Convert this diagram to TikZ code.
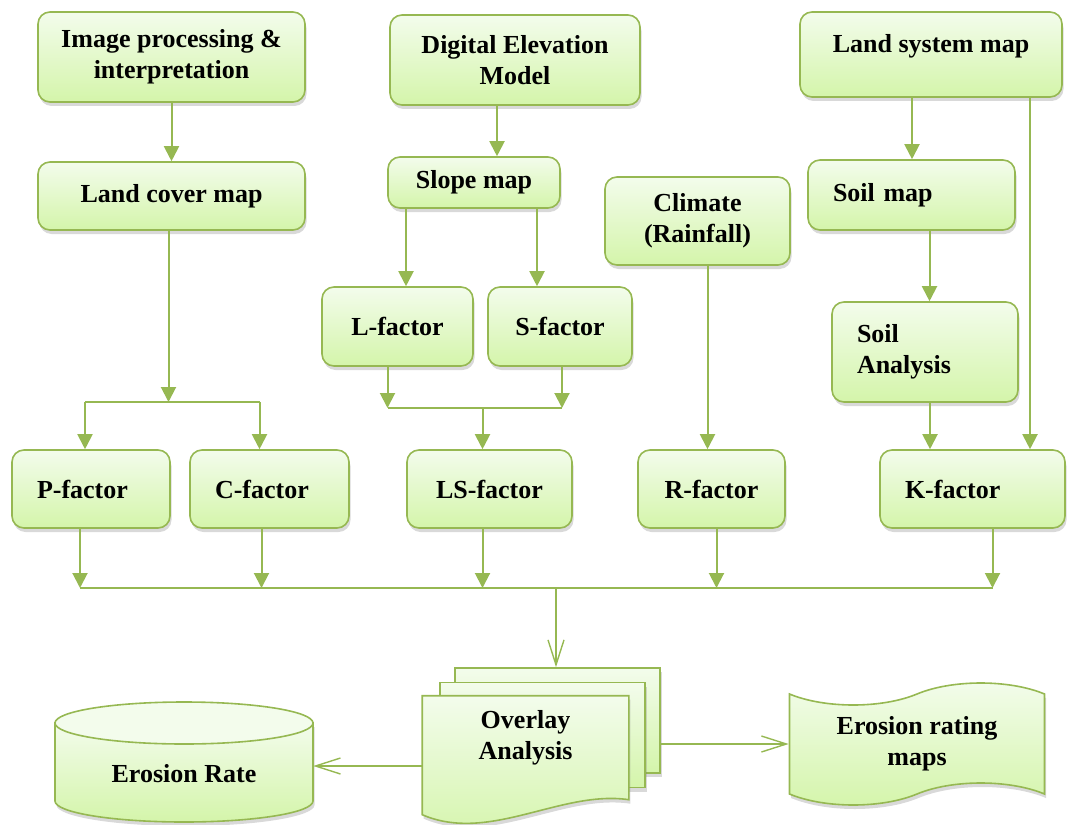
\documentclass[tikz,border=0pt]{standalone}
\usepackage{fontspec}
\setmainfont{Liberation Serif}
\usetikzlibrary{arrows.meta,calc,positioning,shadows,shapes.symbols}

\definecolor{leafline}{RGB}{150,184,82}
\definecolor{leaftop}{RGB}{243,252,236}
\definecolor{leafbot}{RGB}{212,245,170}

\begin{document}
\begin{tikzpicture}[x=1pt,y=-1pt,
    box/.style={draw=leafline, line width=1.6pt, rounded corners=12pt,
      top color=leaftop, bottom color=leafbot,
      drop shadow={shadow xshift=1.5pt,shadow yshift=-4pt,opacity=0.3},
      font=\bfseries\fontsize{26}{31}\selectfont, align=center, inner sep=4pt},
    lbox/.style={box, align=left, inner xsep=25pt, text width=#1},
    page/.style={draw=leafline, line width=1.6pt, top color=leaftop, bottom color=leafbot},
    txt/.style={font=\bfseries\fontsize{26}{31}\selectfont, align=center},
    flow/.style={draw=leafline, line width=2pt, -{Triangle[width=15pt,length=15pt]}},
    bus/.style={draw=leafline, line width=1.6pt},
    open/.style={draw=leafline, line width=1.4pt, -{Straight Barb[width=16pt,length=25pt]}},
  ]
  \useasboundingbox (0,0) rectangle (1078,824);

  % sources
  \node[box, minimum width=267pt, minimum height=90pt] (img) at (171.5,57) {Image processing \&\\interpretation};
  \node[box, minimum width=250pt, minimum height=90pt] (dem) at (515,60) {Digital Elevation\\Model};
  \node[box, minimum width=262pt, minimum height=85pt, text depth=22pt] (lsm) at (931,54.5) {Land system map};

  % maps
  \node[box, minimum width=267pt, minimum height=68pt] (lcm) at (171.5,196) {Land cover map};
  \node[box, minimum width=172pt, minimum height=51pt] (slope) at (474,182.5) {Slope map};
  \node[box, minimum width=185pt, minimum height=88pt] (clim) at (697.5,221) {Climate\\(Rainfall)};
  \node[lbox=157pt, minimum height=70pt] (soil) at (911.5,195) {Soil map};
  \node[box, minimum width=151pt, minimum height=79pt] (lf) at (397.5,326.5) {L-factor};
  \node[box, minimum width=144pt, minimum height=79pt] (sf) at (560,326.5) {S-factor};
  \node[lbox=136pt, minimum height=100pt] (sa) at (925,352) {Soil\\Analysis};

  % factors
  \node[lbox=108pt, minimum height=78pt] (pf) at (91,489) {P-factor};
  \node[lbox=109pt, minimum height=78pt] (cf) at (269.5,489) {C-factor};
  \node[box, minimum width=165pt, minimum height=78pt] (lsf) at (489.5,489) {LS-factor};
  \node[box, minimum width=147pt, minimum height=78pt] (rf) at (711.5,489) {R-factor};
  \node[lbox=135pt, minimum height=78pt] (kf) at (972.5,489) {K-factor};

  % overlay pages
  \node[page, minimum width=205pt, minimum height=105pt,
    drop shadow={shadow xshift=1.5pt,shadow yshift=-4pt,opacity=0.3}] (ovc) at (557.5,720.5) {};
  \node[page, minimum width=205pt, minimum height=105pt,
    drop shadow={shadow xshift=1.5pt,shadow yshift=-4pt,opacity=0.3}] (ovb) at (542.5,735) {};
  \path[page, drop shadow={shadow xshift=1.5pt,shadow yshift=-4pt,opacity=0.3}]
    ($(ovb.north west)+(-17,14)$) -- ($(ovb.north east)+(-17,14)$) -- ($(ovb.north east)+(-17,118)$)
    .. controls ($(ovb.north east)+(-85,108)$) and ($(ovb.north west)+(50,162)$) .. ($(ovb.north west)+(-17,133)$) -- cycle;
  \node[txt, minimum width=205pt] (ov) at (525.5,738) {Overlay\\Analysis};

  % erosion rate store
  \path[page, drop shadow={shadow xshift=1.5pt,shadow yshift=-4pt,opacity=0.3}]
    (55,723) -- (55,801) arc[start angle=180, end angle=0, x radius=129, y radius=21] -- (313,723) -- cycle;
  \draw[draw=leafline, line width=1.6pt, fill=leaftop] (184,723) ellipse [x radius=129, y radius=21];
  \node[txt, minimum width=258pt, text height=34pt] (rate) at (184,766) {Erosion Rate};

  % erosion rating maps
  \node[tape, draw=leafline, line width=1.6pt, top color=leaftop, bottom color=leafbot,
    drop shadow={shadow xshift=1.5pt,shadow yshift=-4pt,opacity=0.3},
    minimum width=255pt, minimum height=122pt, tape bend height=22pt, txt] (maps) at (917,744) {Erosion rating\\maps};

  % top arrows
  \draw[flow] (img) -- (lcm);
  \draw[flow] ([xshift=-18pt]dem.south) -- ([xshift=-18pt]dem.south |- slope.north);
  \draw[flow] ([xshift=-19pt]lsm.south) -- ([xshift=-19pt]lsm.south |- soil.north);
  \draw[flow] ([xshift=99pt]lsm.south) -- ([xshift=99pt]lsm.south |- kf.north);
  \draw[flow] ([xshift=-68pt]slope.south) -- ([xshift=-68pt]slope.south |- lf.north);
  \draw[flow] ([xshift=63pt]slope.south) -- ([xshift=63pt]slope.south |- sf.north);
  \draw[flow] ([xshift=10pt]clim.south) -- ([xshift=10pt]clim.south |- rf.north);
  \draw[flow] ([xshift=18pt]soil.south) -- ([xshift=18pt]soil.south |- sa.north);
  \draw[flow] ([xshift=5pt]sa.south) -- ([xshift=5pt]sa.south |- kf.north);

  % P and C fork
  \coordinate (pcj) at (0,402);
  \draw[flow] ([xshift=-3pt]lcm.south) -- ([xshift=-3pt]lcm.south |- pcj);
  \draw[bus] ([xshift=-6pt]pf.north |- pcj) -- ([xshift=-10pt]cf.north |- pcj);
  \draw[flow] ([xshift=-6pt]pf.north |- pcj) -- ([xshift=-6pt]pf.north);
  \draw[flow] ([xshift=-10pt]cf.north |- pcj) -- ([xshift=-10pt]cf.north);

  % L and S join
  \coordinate (lsj) at (0,408);
  \draw[flow] ([xshift=-10pt]lf.south) -- ([xshift=-10pt]lf.south |- lsj);
  \draw[flow] ([xshift=2pt]sf.south) -- ([xshift=2pt]sf.south |- lsj);
  \draw[bus] ([xshift=-10pt]lf.south |- lsj) -- ([xshift=2pt]sf.south |- lsj);
  \draw[flow] ([xshift=-7pt]lsf.north |- lsj) -- ([xshift=-7pt]lsf.north);

  % factors into overlay
  \coordinate (base) at (0,588);
  \foreach \n/\dx in {pf/-11,cf/-8,lsf/-7,rf/5,kf/20}
    \draw[flow] ([xshift=\dx pt]\n.south) -- ([xshift=\dx pt]\n.south |- base);
  \draw[bus] ([xshift=-11pt]pf.south |- base) -- ([xshift=20pt]kf.south |- base);
  \draw[open] ([xshift=-1.5pt]ovc.north |- base) -- ([xshift=-1.5pt]ovc.north);

  % outputs
  \draw[open] (rate.east -| ov.west) -- (rate.east);
  \draw[open] (maps.west -| ovc.east) -- (maps.west);
\end{tikzpicture}
\end{document}
